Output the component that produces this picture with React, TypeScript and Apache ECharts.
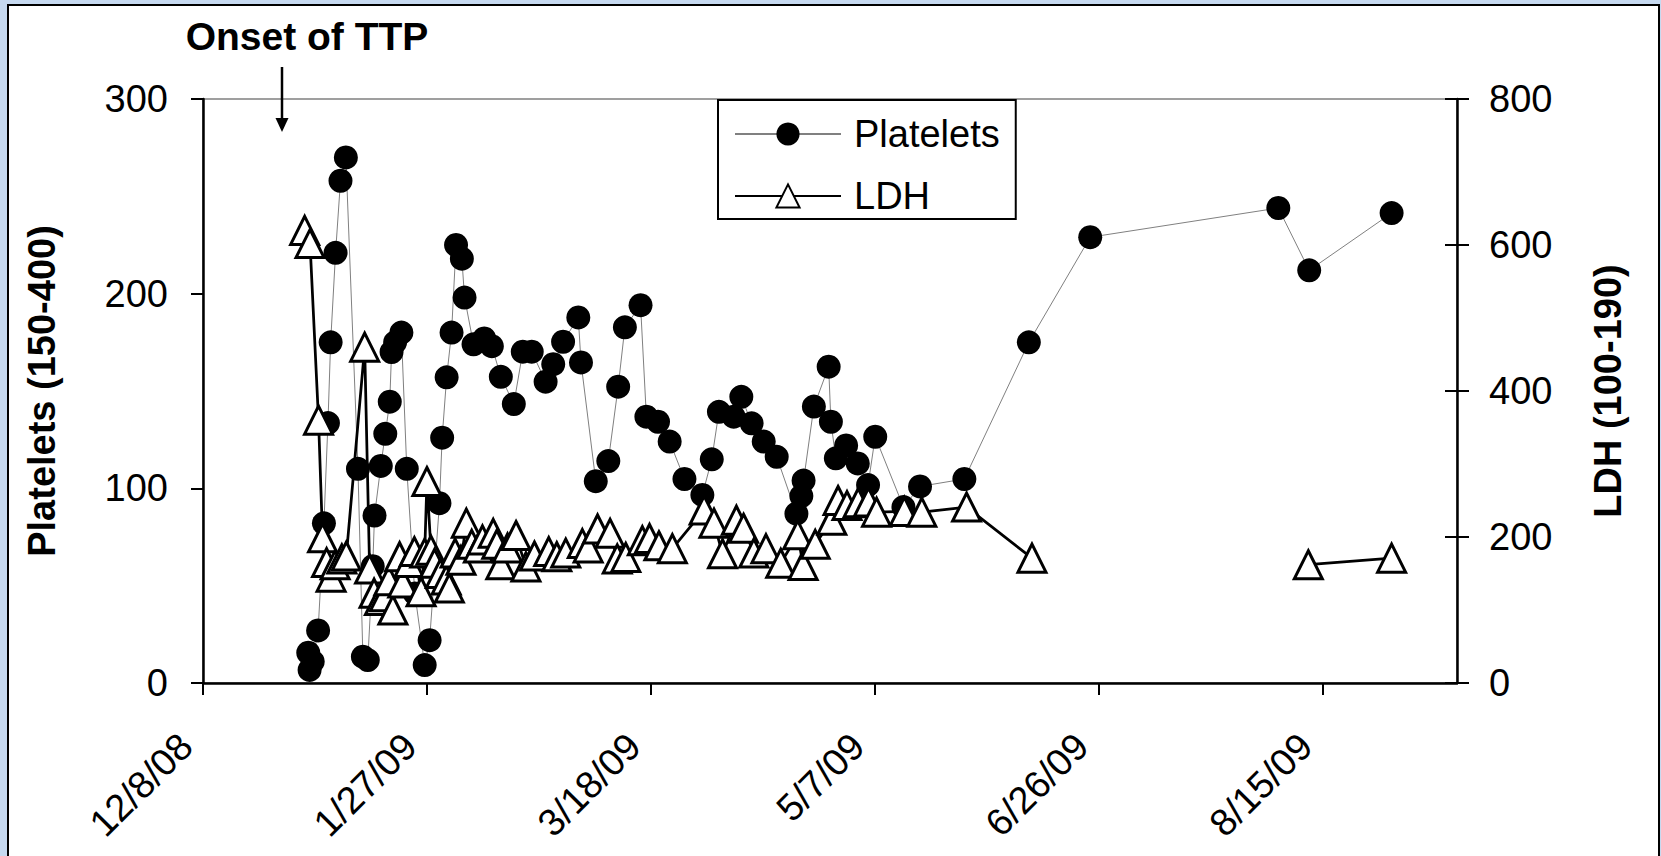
import React, { useEffect, useRef } from "react";
import * as echarts from "echarts";

// x axis: days since 12/8/08
const xTickDays = [0, 50, 100, 150, 200, 250];
const xTickLabels = ["12/8/08", "1/27/09", "3/18/09", "5/7/09", "6/26/09", "8/15/09"];
const xMaxDay = 280;

// [day since 12/8/08, platelets]
const platelets: [number, number][] = [
  [23.5, 15.6], [23.8, 6.7], [24.5, 11], [25.7, 27], [27.0, 82],
  [27.9, 133.5], [28.5, 175], [29.6, 221], [30.7, 258], [31.9, 270],
  [34.6, 110], [35.7, 13.5], [36.8, 11.8], [37.9, 60], [38.3, 86],
  [39.7, 111.5], [40.7, 128], [41.7, 144.5], [42.1, 170], [42.9, 175],
  [44.3, 180], [45.5, 110], [47.3, 46], [49.5, 9.2], [50.6, 22],
  [52.8, 92.4], [53.4, 126], [54.4, 157], [55.5, 180], [56.5, 225],
  [57.8, 218], [58.4, 198], [60.4, 174], [62.8, 177], [64.5, 173],
  [66.5, 157.3], [69.4, 143.3], [71.4, 170.2], [73.4, 170.2], [76.5, 154.8],
  [78.2, 163.8], [80.4, 175.3], [83.8, 187.8], [84.4, 164.7], [87.7, 103.7],
  [90.5, 114], [92.7, 152.2], [94.2, 182.7], [97.7, 194.1], [99.0, 136.8],
  [101.6, 134.2], [104.2, 124], [107.5, 104.8], [111.5, 96.6], [113.6, 114.9],
  [115.2, 139.3], [118.5, 136.8], [120.2, 147], [122.5, 133.4], [125.2, 124],
  [128.1, 116.2], [132.5, 87], [133.6, 96], [134.1, 104], [136.4, 142],
  [139.7, 162.5], [140.2, 134.2], [141.3, 115.4], [143.6, 122], [146.2, 112.8],
  [148.5, 101.7], [150.1, 126.5], [156.4, 90.4], [160.1, 101], [170.0, 104.8],
  [184.4, 175], [198.1, 229], [240.1, 244], [247.0, 212], [265.4, 241.4],
];

// [day since 12/8/08, LDH]  ("-" = no measurement, line break)
const ldh: [number, number | string][] = [
  [22.7, 620], [23.9, 602], [25.8, 360], [26.7, 199], [27.6, 165],
  [28.6, 145], [29.5, 162], [31.0, 170], [32.0, 174], [36.1, 460],
  [37.2, 156], [38.2, 123], [39.4, 113], [40.5, 118], [41.5, 140],
  [42.4, 100], [43.9, 173], [44.6, 137], [46.0, 165], [47.2, 180],
  [48.7, 125], [49.5, 178], [50.0, 276], [50.9, 182], [51.7, 164],
  [53.0, 150], [54.3, 141], [55.0, 130], [56.3, 178], [57.6, 168],
  [58.8, 219], [60.0, 190], [61.5, 185], [62.4, 196], [64.8, 205],
  [65.6, 190], [66.5, 162], [68.0, 185], [69.9, 202], [72.1, 159],
  [74.0, 174], [77.2, 180], [79.0, 173], [81.0, 178], [84.7, 191],
  [86.0, 185], [88.1, 211], [90.9, 205], [92.5, 170], [94.4, 172],
  [98.1, 195], [99.7, 198], [101.8, 188], [104.8, 184], [111.9, 237],
  [114.1, 219], [116.0, 177], [119.1, 223], [120.7, 212], [123.0, 178],
  [125.7, 184], [129.0, 164], [132.8, 203], [134.0, 161], [136.7, 190],
  [140.4, 223], [141.8, 250], [143.8, 243], [146.3, 247], [148.6, 248],
  [150.4, 234], [156.6, 235], [160.5, 234], [170.5, 241], [185.1, 171],
  [215, "-"], [246.8, 162], [265.4, 171],
];

const FONT = "Liberation Sans";

export default function App() {
  const ref = useRef<HTMLDivElement>(null);

  useEffect(() => {
    const chart = echarts.init(ref.current as HTMLDivElement, null, { renderer: "svg" });
    const axisLineStyle = { color: "#000", width: 2.5 };
    chart.setOption({
      animation: false,
      backgroundColor: "transparent",
      textStyle: { fontFamily: FONT, color: "#000" },
      grid: {
        left: 203, right: 204, top: 99, bottom: 173,
        show: true, borderColor: "#808080", borderWidth: 1.5, backgroundColor: "transparent",
      },
      legend: {
        orient: "vertical", left: 718, top: 100,
        backgroundColor: "#fff", borderColor: "#000", borderWidth: 2,
        padding: [15, 16, 4, 16],
        itemWidth: 106, itemHeight: 29, itemGap: 24,
        selectedMode: false,
        textStyle: { fontSize: 38, color: "#000", fontFamily: FONT, padding: [0, 0, 0, 8], lineHeight: 38 },
        data: ["Platelets", "LDH"],
      },
      xAxis: {
        type: "value", min: 0, max: xMaxDay, interval: 50,
        axisLine: { show: true, lineStyle: axisLineStyle },
        axisTick: { show: true, length: 12, lineStyle: { color: "#000", width: 2 }, customValues: xTickDays },
        splitLine: { show: false },
        axisLabel: {
          customValues: xTickDays,
          rotate: 45, fontSize: 38, color: "#000", fontFamily: FONT,
          margin: 40, padding: [0, 24, 0, 0],
          formatter: (v: number) => {
            const i = xTickDays.indexOf(Math.round(v));
            return i >= 0 ? xTickLabels[i] : "";
          },
        },
      },
      yAxis: [
        {
          type: "value", position: "left", min: 0, max: 300, interval: 100,
          name: "Platelets (150-400)", nameLocation: "middle", nameRotate: 90, nameGap: 142,
          nameTextStyle: { fontSize: 38, fontWeight: "bold", color: "#000", fontFamily: FONT },
          axisLine: { show: true, lineStyle: axisLineStyle },
          axisTick: { show: true, length: 12, lineStyle: { color: "#000", width: 2 } },
          splitLine: { show: false },
          axisLabel: { fontSize: 38, color: "#000", margin: 35, fontFamily: FONT },
        },
        {
          type: "value", position: "right", min: 0, max: 800, interval: 200,
          name: "LDH (100-190)", nameLocation: "middle", nameRotate: 90, nameGap: 132,
          nameTextStyle: { fontSize: 38, fontWeight: "bold", color: "#000", fontFamily: FONT },
          axisLine: { show: true, lineStyle: axisLineStyle },
          axisTick: { show: true, length: 12, lineStyle: { color: "#000", width: 2 } },
          splitLine: { show: false },
          axisLabel: { fontSize: 38, color: "#000", margin: 32, fontFamily: FONT },
        },
        {
          type: "value", position: "right", min: 0, max: 800, interval: 200,
          axisLine: { show: false },
          axisTick: { show: true, inside: true, length: 12, lineStyle: { color: "#000", width: 2 } },
          splitLine: { show: false },
          axisLabel: { show: false },
        },
      ],
      series: [
        {
          name: "Platelets", type: "line", yAxisIndex: 0, data: platelets,
          symbol: "circle", symbolSize: 24, showAllSymbol: true,
          itemStyle: { color: "#000" },
          lineStyle: { color: "#808080", width: 1 },
          z: 2,
        },
        {
          name: "LDH", type: "line", yAxisIndex: 1, data: ldh,
          symbol: "triangle", symbolSize: 28, showAllSymbol: true, connectNulls: false,
          itemStyle: { color: "#fff", borderColor: "#000", borderWidth: 3 },
          lineStyle: { color: "#000", width: 2.75 },
          z: 3,
        },
      ],
      graphic: [
        {
          type: "text", z: 10,
          style: {
            text: "Onset of TTP", x: 307, y: 36,
            align: "center", verticalAlign: "middle",
            textAlign: "center", textVerticalAlign: "middle",
            font: `bold 39px "${FONT}"`, fill: "#000",
          },
        },
        {
          type: "line", z: 10,
          shape: { x1: 282, y1: 67, x2: 282, y2: 121 },
          style: { stroke: "#000", lineWidth: 2.5 },
        },
        {
          type: "polygon", z: 10,
          shape: { points: [[275.5, 118], [288.5, 118], [282, 132]] },
          style: { fill: "#000" },
        },
      ],
    });
    return () => chart.dispose();
  }, []);

  return (
    <div style={{ position: "fixed", left: 0, top: 0, width: 1661, height: 856, background: "#c6d9f0", overflow: "hidden" }}>
      <div style={{ position: "absolute", left: 7, top: 4, width: 1653, height: 900, background: "#fff", border: "2.6px solid #000", boxSizing: "border-box" }} />
      <div ref={ref} style={{ position: "absolute", left: 0, top: 0, width: 1661, height: 856 }} />
    </div>
  );
}
